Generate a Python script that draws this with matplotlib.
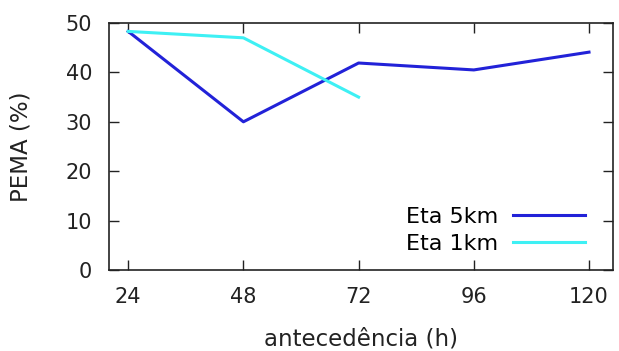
import matplotlib
matplotlib.use("Agg")
import matplotlib.pyplot as plt

lead = [24, 48, 72, 96, 120]
eta5 = [48.3, 30.0, 41.9, 40.5, 44.1]
lead1 = [24, 48, 72]
eta1 = [48.3, 47.0, 35.0]
xticks = [24, 48, 72, 96, 120]
yticks = [0, 10, 20, 30, 40, 50]

fig = plt.figure(figsize=(6.19, 3.51), dpi=100)
x0, x1, y0, y1 = 109, 613, 23, 270
ax = fig.add_axes([x0/619, 1 - y1/351, (x1-x0)/619, (y1-y0)/351])
ax.plot(lead, eta5, color="#2222d8", lw=2.2, label="Eta 5km")
ax.plot(lead1, eta1, color="#3ef0f4", lw=2.2, label="Eta 1km")
ax.set_xlim(20, 125)
ax.set_ylim(0, 50)
ax.set_xticks(xticks)
ax.set_yticks(yticks)
ax.tick_params(direction="in", top=True, right=True, labelsize=15, length=7, width=1, pad=12,
               colors="#222222", labelcolor="#222222")
for s in ax.spines.values():
    s.set_linewidth(1.2)
    s.set_color("#222222")
ax.set_xlabel("antecedência (h)", fontsize=16.5, color="#222222")
ax.set_ylabel("PEMA (%)", fontsize=16.5, color="#222222")
W, H = x1 - x0, y1 - y0
ax.yaxis.set_label_coords((33 - x0) / W, 0.5)
ax.xaxis.set_label_coords(0.5, (y1 - 328) / H)
leg = ax.legend(loc="center right", bbox_to_anchor=((585 - x0) / W, (y1 - 230.5) / H),
                borderaxespad=0, borderpad=0, frameon=False, markerfirst=False,
                fontsize=16, handlelength=3.25, handletextpad=0.65, labelspacing=0.3)
fig.savefig("out.png", dpi=100)
